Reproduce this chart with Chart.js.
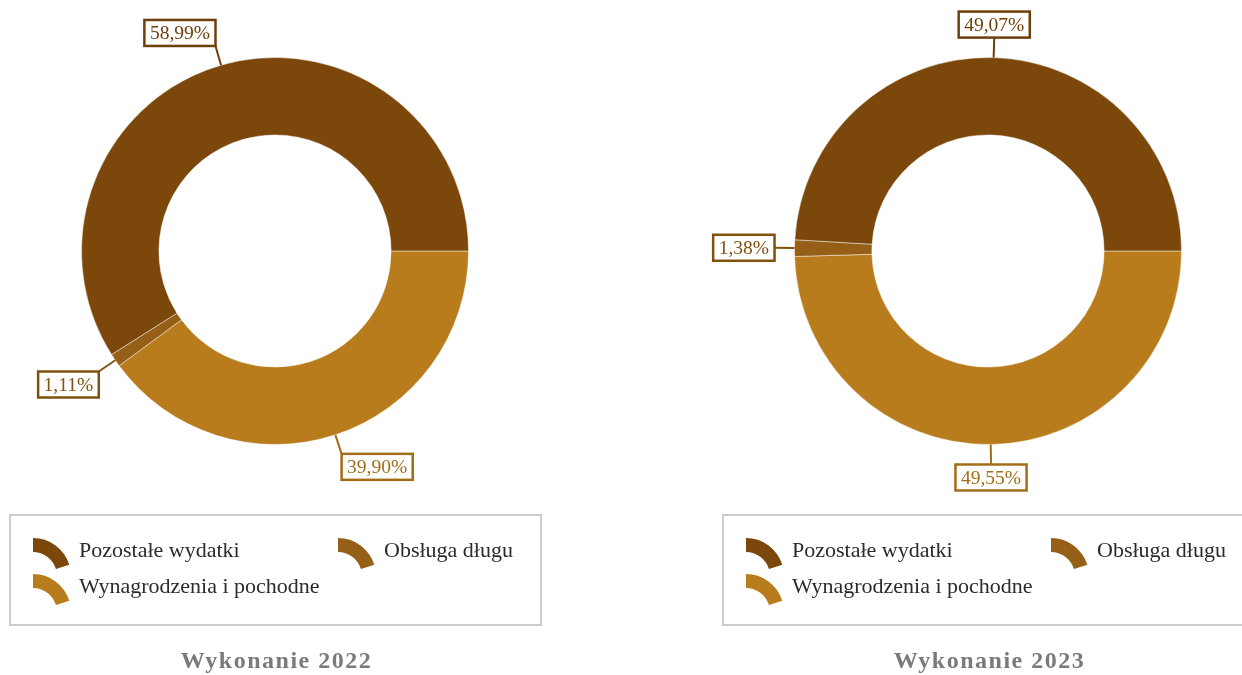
<!DOCTYPE html>
<html>
<head>
<meta charset="utf-8">
<script src="https://cdn.jsdelivr.net/npm/chart.js@4.4.1/dist/chart.umd.min.js"></script>
<style>
  html, body { margin: 0; padding: 0; background: #fff; overflow: hidden; width: 1242px; height: 675px; }
  canvas { position: absolute; top: 0; }
  #c2022 { left: 0; }
  #c2023 { left: 663px; }
</style>
</head>
<body>
<canvas id="c2022" width="551" height="675"></canvas>
<canvas id="c2023" width="601" height="675"></canvas>
<script>
// data (legend order)
var categories = ['Pozostałe wydatki', 'Obsługa długu', 'Wynagrodzenia i pochodne'];
var values2022 = [58.99, 1.11, 39.90];
var values2023 = [49.07, 1.38, 49.55];
var titles = ['Wykonanie 2022', 'Wykonanie 2023'];

var colors = ['#7b470b', '#955f17', '#b87c1c'];
var labelColors = ['#6d3f0a', '#80510f', '#a26d18'];
var serif = "'Liberation Serif', 'Times New Roman', serif";

function fmt(v) {
  return v.toFixed(2).replace('.', ',') + '%';
}

// percentage boxes with leader lines
var calloutPlugin = {
  id: 'callouts',
  afterDatasetsDraw: function(chart) {
    var ctx = chart.ctx;
    var meta = chart.getDatasetMeta(0);
    var ds = chart.data.datasets[0];
    ctx.save();
    ctx.font = '19.5px ' + serif;
    meta.data.forEach(function(arc, i) {
      var p = arc.getProps(['x', 'y', 'startAngle', 'endAngle', 'outerRadius'], true);
      var mid = (p.startAngle + p.endAngle) / 2;
      var dx = Math.cos(mid), dy = Math.sin(mid);
      var x0 = p.x + dx * p.outerRadius, y0 = p.y + dy * p.outerRadius;
      var x1 = p.x + dx * (p.outerRadius + 20), y1 = p.y + dy * (p.outerRadius + 20);
      var col = ds.labelColors[i];
      var txt = fmt(ds.data[i]);
      var w = ctx.measureText(txt).width + 11, h = 26;
      var bx = dx > 0.2 ? x1 : (dx < -0.2 ? x1 - w : x1 - w / 2);
      var by = dy > 0.2 ? y1 : (dy < -0.2 ? y1 - h : y1 - h / 2);

      ctx.strokeStyle = col;
      ctx.lineWidth = 2;
      ctx.beginPath();
      ctx.moveTo(x0, y0);
      ctx.lineTo(x1, y1);
      ctx.stroke();

      ctx.fillStyle = '#fff';
      ctx.fillRect(bx, by, w, h);
      ctx.lineWidth = 2.5;
      ctx.strokeRect(bx, by, w, h);
      ctx.fillStyle = col;
      ctx.textAlign = 'center';
      ctx.textBaseline = 'middle';
      ctx.fillText(txt, bx + w / 2, by + h / 2 + 1);
    });
    ctx.restore();
  }
};

// boxed legend with arc icons, and the caption under it
var legendPlugin = {
  id: 'boxLegend',
  afterDraw: function(chart) {
    var ctx = chart.ctx;
    var opts = chart.options.plugins.boxLegend;
    var ox = opts.offsetX;
    ctx.save();
    ctx.strokeStyle = '#cccccc';
    ctx.lineWidth = 2;
    ctx.strokeRect(ox + 10, 515, 531, 110);

    ctx.font = '22px ' + serif;
    ctx.textBaseline = 'middle';
    ctx.textAlign = 'left';
    var slots = [[33, 538], [338, 538], [33, 574]];
    categories.forEach(function(name, i) {
      var x = ox + slots[i][0], y = slots[i][1];
      var cx = x, cy = y + 38;
      ctx.fillStyle = colors[i];
      ctx.beginPath();
      ctx.arc(cx, cy, 38, -Math.PI / 2, -0.3);
      ctx.arc(cx, cy, 24, -0.3, -Math.PI / 2, true);
      ctx.closePath();
      ctx.fill();
      ctx.fillStyle = '#2b2b2b';
      ctx.fillText(name, x + 46, y + 13);
    });

    ctx.font = 'bold 24px ' + serif;
    ctx.letterSpacing = '1.5px';
    ctx.fillStyle = '#7a7a7a';
    ctx.textAlign = 'center';
    ctx.fillText(opts.title, ox + 276.5, 662);
    ctx.restore();
  }
};

function makeChart(id, values, title, ox) {
  var order = [2, 1, 0]; // drawn clockwise from 3 o'clock
  return new Chart(document.getElementById(id).getContext('2d'), {
    type: 'doughnut',
    data: {
      labels: order.map(function(i) { return categories[i]; }),
      datasets: [{
        data: order.map(function(i) { return values[i]; }),
        backgroundColor: order.map(function(i) { return colors[i]; }),
        labelColors: order.map(function(i) { return labelColors[i]; }),
        borderColor: 'rgba(255,255,255,0.45)',
        borderWidth: 1
      }]
    },
    options: {
      responsive: false,
      animation: false,
      cutout: '60%',
      rotation: 90,
      layout: { padding: { left: ox + 81, right: 82, top: 57, bottom: 230 } },
      plugins: {
        legend: { display: false },
        tooltip: { enabled: false },
        boxLegend: { title: title, offsetX: ox }
      }
    },
    plugins: [calloutPlugin, legendPlugin]
  });
}

makeChart('c2022', values2022, titles[0], 0);
makeChart('c2023', values2023, titles[1], 50);
</script>
</body>
</html>
